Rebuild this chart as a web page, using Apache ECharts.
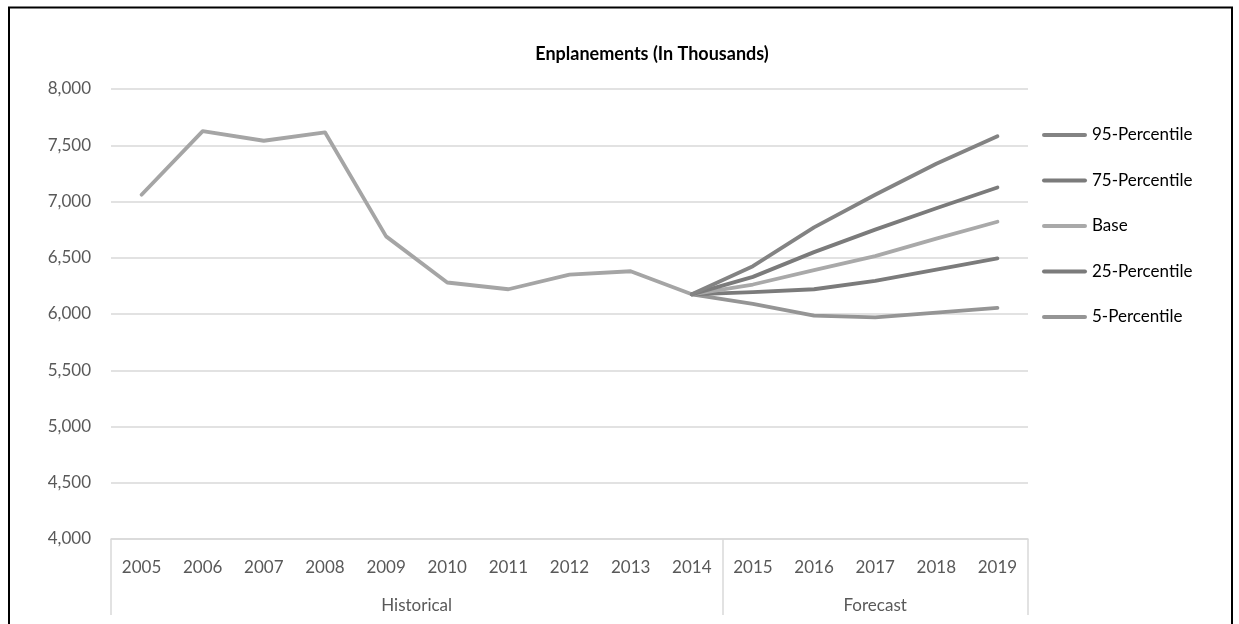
<!DOCTYPE html>
<html>
<head>
<meta charset="utf-8">
<title>Enplanements (In Thousands)</title>
<script src="https://cdn.jsdelivr.net/npm/echarts@6/dist/echarts.min.js"></script>
<style>
  html, body { margin: 0; padding: 0; background: #ffffff; }
  #chart { width: 1239px; height: 624px; }
</style>
</head>
<body>
<div id="chart"></div>
<script>
// Years on the category axis
const years = ['2005','2006','2007','2008','2009','2010','2011','2012','2013','2014','2015','2016','2017','2018','2019'];

// Period groups shown under the years (label, centre position in category units)
const groupLabels = ['Historical', 'Forecast'];
const groupCentres = [5, 12.5];
const groupBounds = [0, 10, 15];

// Actual enplanements, 2005-2014
const historical = [7060, 7625, 7540, 7615, 6690, 6280, 6220, 6350, 6380, 6175];

// Forecast scenarios, 2014-2019 (start from the last actual year)
const p95  = [6175, 6425, 6770, 7060, 7335, 7580];
const p75  = [6175, 6330, 6550, 6750, 6940, 7125];
const base = [6175, 6262, 6390, 6515, 6670, 6820];
const p25  = [6175, 6195, 6220, 6295, 6395, 6495];
const p5   = [6175, 6090, 5985, 5970, 6012, 6055];

// Y-axis range
const yMin = 4000, yMax = 8000, yStep = 500;

const pad = (arr, lead) => Array(lead).fill(null).concat(arr);

const FONT = 'Lato';
const chart = echarts.init(document.getElementById('chart'), null, { renderer: 'canvas' });

function lineSeries(name, data, color) {
  return {
    name: name,
    type: 'line',
    data: data,
    symbol: 'none',
    smooth: false,
    lineStyle: { color: color, width: 3.8, cap: 'round', join: 'round' },
    itemStyle: { color: color },
    emphasis: { disabled: true },
    z: 3
  };
}

const option = {
  backgroundColor: '#ffffff',
  animation: false,
  title: {
    text: 'Enplanements (In Thousands)',
    left: 647,
    top: 40,
    textAlign: 'center',
    textStyle: { fontFamily: FONT, fontSize: 18, fontWeight: 'bold', color: '#000000' }
  },
  legend: {
    orient: 'vertical',
    left: 1037,
    top: 121,
    itemWidth: 45,
    itemHeight: 4,
    itemGap: 27.5,
    icon: 'path://M2,0h41a2,2 0 0 1 0,4h-41a2,2 0 0 1 0,-4z',
    textStyle: { fontFamily: FONT, fontSize: 17, color: '#000000', lineHeight: 18 },
    data: ['95-Percentile', '75-Percentile', 'Base', '25-Percentile', '5-Percentile'],
    selectedMode: false
  },
  grid: { left: 111, right: 211, top: 89, bottom: 85, containLabel: false },
  xAxis: [
    {
      type: 'category',
      data: years,
      boundaryGap: true,
      axisLine: { show: true, lineStyle: { color: '#d9d9d9', width: 1.5 } },
      axisTick: { show: false },
      axisLabel: { fontFamily: FONT, fontSize: 17, color: '#595959', margin: 20, interval: 0 },
      splitLine: { show: false }
    },
    {
      type: 'value',
      position: 'bottom',
      min: 0,
      max: 15,
      axisLine: { show: false },
      axisTick: {
        show: true,
        customValues: groupBounds,
        length: 76,
        inside: false,
        lineStyle: { color: '#d9d9d9', width: 1.5 }
      },
      axisLabel: {
        show: true,
        customValues: groupCentres,
        fontFamily: FONT,
        fontSize: 17,
        color: '#595959',
        margin: 58,
        formatter: function (v) {
          const i = groupCentres.indexOf(v);
          return i >= 0 ? groupLabels[i] : '';
        }
      },
      splitLine: { show: false }
    }
  ],
  yAxis: {
    type: 'value',
    min: yMin,
    max: yMax,
    interval: yStep,
    axisLine: { show: false },
    axisTick: { show: false },
    axisLabel: {
      fontFamily: FONT,
      fontSize: 17,
      color: '#595959',
      margin: 20,
      formatter: v => v.toLocaleString('en-US')
    },
    splitLine: { show: true, lineStyle: { color: '#d9d9d9', width: 1.5 } }
  },
  series: [
    lineSeries('Historical', historical, '#a5a5a5'),
    lineSeries('5-Percentile', pad(p5, 9), '#959595'),
    lineSeries('25-Percentile', pad(p25, 9), '#7b7b7b'),
    lineSeries('Base', pad(base, 9), '#a9a9a9'),
    lineSeries('75-Percentile', pad(p75, 9), '#7b7b7b'),
    lineSeries('95-Percentile', pad(p95, 9), '#838383')
  ],
  graphic: [
    {
      type: 'rect',
      shape: { x: 9, y: 7.5, width: 1223, height: 700 },
      style: { fill: 'none', stroke: '#000000', lineWidth: 2 },
      silent: true,
      z: 10
    }
  ]
};

chart.setOption(option);
</script>
</body>
</html>
